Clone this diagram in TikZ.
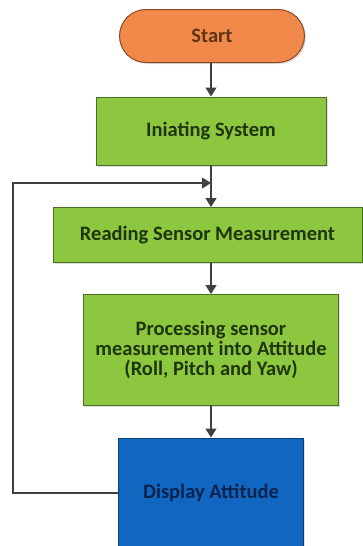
\documentclass[tikz,border=0pt]{standalone}
\usepackage{fontspec}
\setmainfont{Carlito}
\usetikzlibrary{arrows.meta,shapes.misc,shadows}
\definecolor{startfill}{HTML}{F0894A}
\definecolor{startline}{HTML}{8A4A20}
\definecolor{stepfill}{HTML}{8DC63F}
\definecolor{stepline}{HTML}{4A6E22}
\definecolor{steptext}{HTML}{1E360C}
\definecolor{dispfill}{HTML}{1167C0}
\definecolor{displine}{HTML}{0B3F7A}
\definecolor{disptext}{HTML}{0A2350}
\definecolor{flowline}{HTML}{404040}
\tikzset{
  boxbase/.style={draw, line width=1pt, font=\bfseries\fontsize{20.5}{20}\selectfont,
    align=center, inner sep=0pt, drop shadow={shadow xshift=1.5pt,shadow yshift=-1.5pt,opacity=.25}},
  startbox/.style={boxbase, rounded rectangle, fill=startfill, draw=startline, text=startline!70!black},
  stepbox/.style={boxbase, rectangle, fill=stepfill, draw=stepline, text=steptext},
  dispbox/.style={boxbase, rectangle, fill=dispfill, draw=displine, text=disptext},
  flow/.style={draw=flowline, line width=1.3pt, -{Triangle[width=11pt,length=9pt]}},
}
\begin{document}
\begin{tikzpicture}[x=1pt,y=-1pt]
    \useasboundingbox (0,0) rectangle (362,546);
    % boxes, top to bottom
    \node[startbox, minimum width=185pt, minimum height=53pt] (start) at (212,36) {Start};
    \node[stepbox, minimum width=230pt, minimum height=68pt] (init) at (211,131) {Iniating System};
    \node[stepbox, minimum width=309pt, minimum height=55pt] (read) at (207.5,235) {Reading Sensor Measurement};
    \node[stepbox, minimum width=255pt, minimum height=111pt] (proc) at (211,350)
      {Processing sensor\\measurement into Attitude\\(Roll, Pitch and Yaw)};
    \node[dispbox, minimum width=185pt, minimum height=110pt] (disp) at (211,493) {Display Attitude};

    % connectors
    \coordinate (join) at (211,183);
    \draw[flow] (start.south -| init.north) -- (init.north);
    \draw[flow] (init.south) -- (init.south |- read.north);
    \draw[flow] (init.south |- read.south) -- (init.south |- proc.north);
    \draw[flow] (proc.south) -- (disp.north);
    \draw[flow, line width=1.1pt] (disp.west) -- (13,493) |- (join);
\end{tikzpicture}
\end{document}
